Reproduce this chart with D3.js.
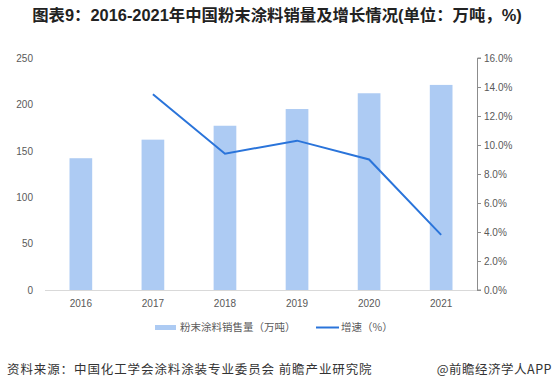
<!DOCTYPE html>
<html><head><meta charset="utf-8">
<script src="https://cdn.jsdelivr.net/npm/d3@7"></script>
<style>
body{margin:0;background:#fff;}
svg{display:block;}
</style></head>
<body><svg id="c" width="554" height="391"></svg>
<script>
const years = ["2016","2017","2018","2019","2020","2021"];
const sales = [142, 162, 177, 195, 212, 221];
const growth = [null, 13.5, 9.4, 10.3, 9.0, 3.8];
const leftTicks = [0, 50, 100, 150, 200, 250];
const rightTicks = [0, 2, 4, 6, 8, 10, 12, 14, 16];
const titleText = "图表9：2016-2021年中国粉末涂料销量及增长情况(单位：万吨，%)";
const legendBar = "粉末涂料销售量（万吨）";
const legendLine = "增速（%）";
const sourceText = "资料来源：中国化工学会涂料涂装专业委员会 前瞻产业研究院";
const brandText = "@前瞻经济学人APP";

const svg = d3.select("#c");
const font = "'Liberation Sans', Arial, 'Noto Sans CJK SC', sans-serif";
const cjk = "'Noto Sans CJK SC', 'Liberation Sans', sans-serif";
const x0 = 45, x1 = 477, yTop = 58, yBot = 290;

const x = d3.scaleBand().domain(years).range([x0, x1]).paddingInner(0.685).paddingOuter(0.34);
const yL = d3.scaleLinear().domain([0, 250]).range([yBot, yTop]);
const yR = d3.scaleLinear().domain([0, 16]).range([yBot, yTop]);

// title
const title = svg.append("text").attr("x", 277).attr("y", 21).attr("text-anchor", "middle")
  .style("font-family", "'Liberation Sans', Arial, 'Noto Sans CJK SC', sans-serif")
  .style("font-weight", "bold").style("font-size", "16px").attr("fill", "#222")
  .text(titleText);
const tw = title.node().getComputedTextLength();
if (tw > 0) title.style("font-size", (16 * 490 / tw).toFixed(2) + "px");

// bars
svg.append("g").selectAll("rect").data(years).join("rect")
  .attr("x", d => x(d)).attr("width", x.bandwidth())
  .attr("y", (d, i) => yL(sales[i])).attr("height", (d, i) => yBot - yL(sales[i]))
  .attr("fill", "#adcbf3");

// baseline
svg.append("line").attr("x1", x0).attr("x2", x1).attr("y1", yBot + 0.5).attr("y2", yBot + 0.5)
  .attr("stroke", "#d9d9d9").attr("stroke-width", 1);

// left axis (labels only)
const gL = svg.append("g").attr("transform", `translate(${x0},0)`)
  .call(d3.axisLeft(yL).tickValues(leftTicks).tickSize(0).tickPadding(12));
gL.select(".domain").remove();
gL.selectAll("text").style("font-family", font).style("font-size", "10px").attr("fill", "#595959");

// right axis
const gR = svg.append("g").attr("transform", `translate(${x1},0)`)
  .call(d3.axisRight(yR).tickValues(rightTicks).tickSize(4).tickPadding(3).tickFormat(d => d.toFixed(1) + "%"));
gR.select(".domain").attr("stroke", "#8c8c8c").attr("d", `M4,${yTop}H0.5V${yBot}H4`);
gR.selectAll(".tick line").attr("stroke", "#8c8c8c");
gR.selectAll("text").style("font-family", font).style("font-size", "10px").attr("fill", "#595959");

// x axis labels
const gX = svg.append("g").attr("transform", `translate(0,${yBot})`)
  .call(d3.axisBottom(x).tickSize(0).tickPadding(10));
gX.select(".domain").remove();
gX.selectAll("text").style("font-family", font).style("font-size", "10px").attr("fill", "#595959");

// line
const pts = years.map((d, i) => ({ d, v: growth[i] })).filter(p => p.v != null);
svg.append("path").datum(pts)
  .attr("d", d3.line().x(p => x(p.d) + x.bandwidth() / 2).y(p => yR(p.v)))
  .attr("fill", "none").attr("stroke", "#2a74da").attr("stroke-width", 2);

// legend
svg.append("rect").attr("x", 155).attr("y", 325).attr("width", 21).attr("height", 5).attr("fill", "#adcbf3");
svg.append("text").attr("x", 180).attr("y", 331).style("font-family", cjk).style("font-size", "10.5px")
  .attr("fill", "#595959").text(legendBar);
svg.append("line").attr("x1", 316).attr("x2", 339).attr("y1", 327.5).attr("y2", 327.5)
  .attr("stroke", "#2a74da").attr("stroke-width", 2);
svg.append("text").attr("x", 341).attr("y", 331).style("font-family", cjk).style("font-size", "10.5px")
  .attr("fill", "#595959").text(legendLine);

// footer
svg.append("text").attr("x", 7).attr("y", 374).style("font-family", cjk).style("font-size", "12.5px")
  .style("letter-spacing", "0.9px").attr("fill", "#333").text(sourceText);
svg.append("text").attr("x", 552).attr("y", 374).attr("text-anchor", "end").style("font-family", cjk)
  .style("font-size", "12.5px").style("letter-spacing", "0.5px").attr("fill", "#333").text(brandText);
</script></body></html>
